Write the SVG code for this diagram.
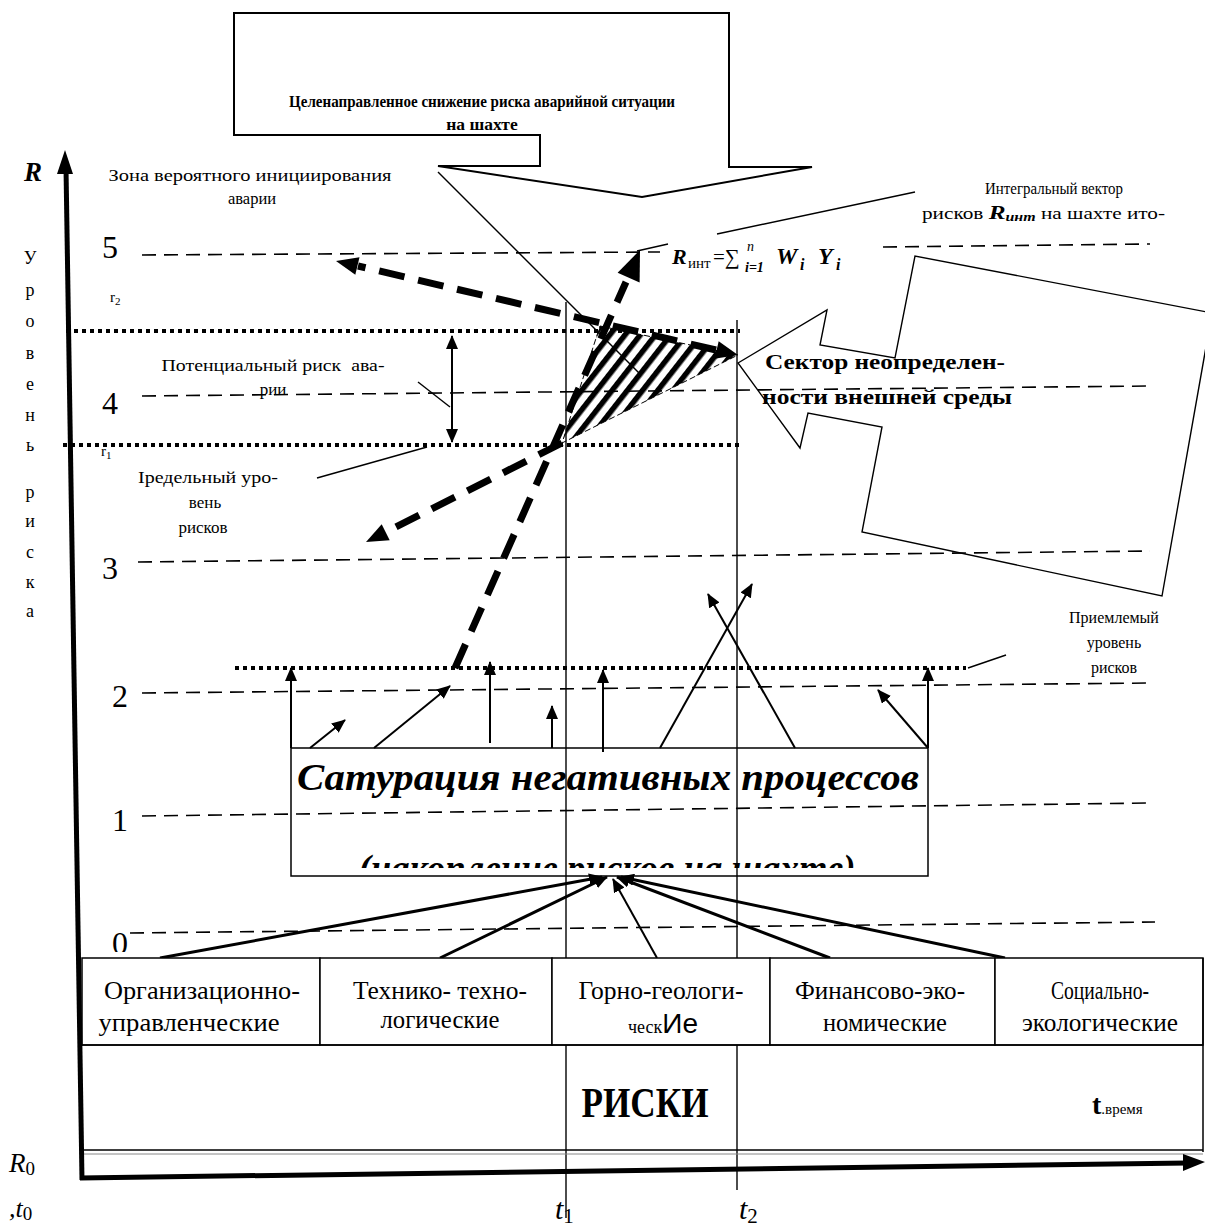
<svg xmlns="http://www.w3.org/2000/svg" width="1205" height="1227" viewBox="0 0 1205 1227">
  <defs>
    <style>
      .t { font-family: "Liberation Serif", "Times New Roman", serif; fill: #000; }
      .b { font-weight: bold; }
      .i { font-style: italic; }
      .bi { font-weight: bold; font-style: italic; }
      .thin { stroke: #000; stroke-width: 1.4; fill: none; }
      .dash { stroke: #000; stroke-width: 1.6; stroke-dasharray: 14 8; fill: none; }
      .dot { stroke: #000; stroke-width: 4; stroke-dasharray: 4 4; fill: none; }
      .tdash { stroke: #000; stroke-width: 7; stroke-dasharray: 26 14; fill: none; }
      .arr { stroke: #000; stroke-width: 2; fill: none; marker-end: url(#ah); }
      .arr3 { stroke: #000; stroke-width: 3; fill: none; marker-end: url(#ah); }
      .box { stroke: #000; stroke-width: 1.5; fill: none; }
      .boxw { stroke: #000; stroke-width: 1.5; fill: #fff; }
    </style>
    <marker id="ah" viewBox="0 0 14 12" refX="13" refY="6" markerWidth="14" markerHeight="12" markerUnits="userSpaceOnUse" orient="auto-start-reverse">
      <path d="M0,0 L14,6 L0,12 Z" fill="#000"/>
    </marker>
    <pattern id="hatch" patternUnits="userSpaceOnUse" width="12" height="12" patternTransform="rotate(38)">
      <rect width="5.5" height="12" fill="#000"/>
    </pattern>
    <clipPath id="satClip"><rect x="291" y="749" width="636" height="119"/></clipPath>
    <clipPath id="zeroClip"><rect x="100" y="927" width="40" height="25"/></clipPath>
  </defs>
  <rect width="1205" height="1227" fill="#fff"/>

  <!-- risk level grid -->
  <g id="levels">
    <line class="dash" x1="142" y1="255" x2="660" y2="252"/>
    <line class="dash" x1="883" y1="247" x2="1150" y2="244"/>
    <line class="dash" x1="142" y1="396" x2="1150" y2="386"/>
    <line class="dash" x1="138" y1="562" x2="1150" y2="551"/>
    <line class="dash" x1="142" y1="693" x2="1150" y2="683"/>
    <line class="dash" x1="142" y1="816" x2="1150" y2="803"/>
    <line class="dash" x1="130" y1="933" x2="1155" y2="922"/>
    <line class="dot" x1="66" y1="331" x2="740" y2="331"/>
    <line class="dot" x1="63" y1="445" x2="740" y2="445"/>
    <line class="dot" x1="235" y1="668" x2="966" y2="668"/>
  </g>

  <!-- time marks t1, t2 -->
  <g id="time-marks">
    <line class="thin" x1="566" y1="302" x2="566" y2="1218"/>
    <line class="thin" x1="737" y1="320" x2="737" y2="1190"/>
  </g>

  <!-- zone of probable accident initiation -->
  <g id="zone">
    <polygon points="600,326 738,355 562,443" fill="url(#hatch)"/>
    <polygon points="600,326 738,355 562,443" fill="none" stroke="#000" stroke-width="1" stroke-dasharray="6 3"/>
  </g>

  <!-- heavy dashed risk vectors -->
  <g id="vectors">
    <line class="tdash" x1="455" y1="668" x2="626" y2="282"/>
    <polygon points="640,250 639.6,282.5 617.6,272.7" fill="#000"/>
    <line class="tdash" x1="716" y1="350" x2="358" y2="266"/>
    <polygon points="336,261 359.5,257.2 355.3,274.8" fill="#000"/>
    <polygon points="738,355 718.7,341.2 714.5,358.8" fill="#000"/>
    <line class="tdash" x1="562" y1="443" x2="386" y2="532"/>
    <polygon points="366,542 389.7,540.2 381.7,524.2" fill="#000"/>
  </g>

  <!-- connectors -->
  <g id="connectors">
    <line class="arr" x1="291" y1="748" x2="291" y2="668"/>
    <line class="arr" x1="310" y1="748" x2="345" y2="720"/>
    <line class="arr" x1="374" y1="748" x2="450" y2="686"/>
    <line class="arr" x1="490" y1="743" x2="490" y2="662"/>
    <line class="arr" x1="552" y1="748" x2="552" y2="706"/>
    <line class="arr" x1="603" y1="752" x2="603" y2="670"/>
    <line class="arr" x1="660" y1="748" x2="752" y2="584"/>
    <line class="arr" x1="795" y1="748" x2="708" y2="594"/>
    <line class="arr" x1="928" y1="748" x2="878" y2="690"/>
    <line class="arr" x1="928" y1="748" x2="928" y2="668"/>
    <line class="arr3" x1="160" y1="958" x2="602" y2="877"/>
    <line class="arr3" x1="440" y1="958" x2="607" y2="877"/>
    <line class="arr" x1="657" y1="958" x2="613" y2="879"/>
    <line class="arr3" x1="830" y1="958" x2="617" y2="877"/>
    <line class="arr3" x1="1005" y1="958" x2="621" y2="877"/>
    <line class="arr" x1="452" y1="336" x2="452" y2="442" marker-start="url(#ah)"/>
    <line class="thin" x1="438" y1="172" x2="640" y2="374"/>
    <line class="thin" x1="915" y1="192" x2="717" y2="234"/>
    <line class="thin" x1="668" y1="244" x2="637" y2="251"/>
    <line class="thin" x1="418" y1="382" x2="450" y2="407"/>
    <line class="thin" x1="317" y1="478" x2="427" y2="447"/>
    <line class="thin" x1="968" y1="668" x2="1006" y2="655"/>
  </g>

  <!-- saturation of negative processes -->
  <g id="saturation">
    <rect class="box" x="291" y="748" width="637" height="128"/>
    <text class="t bi" x="608" y="790" font-size="38" text-anchor="middle" textLength="622" lengthAdjust="spacingAndGlyphs">Сатурация негативных процессов</text>
    <text class="t bi" x="607" y="881" font-size="38" text-anchor="middle" textLength="497" lengthAdjust="spacingAndGlyphs" clip-path="url(#satClip)">(накопление рисков на шахте)</text>
  </g>

  <!-- level numbers -->
  <g id="level-labels" class="t" font-size="32">
    <text x="102" y="258">5</text>
    <text x="102" y="414">4</text>
    <text x="102" y="579">3</text>
    <text x="112" y="707">2</text>
    <text x="112" y="831">1</text>
    <text x="112" y="954" clip-path="url(#zeroClip)">0</text>
  </g>

  <!-- risk groups -->
  <g id="risk-groups">
    <rect class="boxw" x="82" y="958" width="238" height="87"/>
    <rect class="boxw" x="320" y="958" width="232" height="87"/>
    <rect class="boxw" x="552" y="958" width="218" height="87"/>
    <rect class="boxw" x="770" y="958" width="225" height="87"/>
    <rect class="boxw" x="995" y="958" width="208" height="87"/>
    <g class="t" font-size="25" text-anchor="middle">
      <text x="202" y="999" textLength="196" lengthAdjust="spacingAndGlyphs">Организационно-</text>
      <text x="189" y="1031" textLength="181" lengthAdjust="spacingAndGlyphs">управленческие</text>
      <text x="440" y="999" textLength="174" lengthAdjust="spacingAndGlyphs">Технико- техно-</text>
      <text x="440" y="1028" textLength="119" lengthAdjust="spacingAndGlyphs">логические</text>
      <text x="661" y="999" textLength="165" lengthAdjust="spacingAndGlyphs">Горно-геологи-</text>
      <text x="663" y="1033"><tspan font-size="18">ческ</tspan><tspan font-family="Liberation Sans, Arial, sans-serif" font-size="28">Ие</tspan></text>
      <text x="880" y="999" textLength="170" lengthAdjust="spacingAndGlyphs">Финансово-эко-</text>
      <text x="885" y="1031" textLength="124" lengthAdjust="spacingAndGlyphs">номические</text>
      <text x="1100" y="999" textLength="98" lengthAdjust="spacingAndGlyphs">Социально-</text>
      <text x="1100" y="1031" textLength="156" lengthAdjust="spacingAndGlyphs">экологические</text>
    </g>
  </g>

  <!-- risks band -->
  <g id="risks">
    <line class="box" x1="82" y1="1045" x2="1203" y2="1045"/>
    <line class="box" x1="1203" y1="958" x2="1203" y2="1152"/>
    <line class="box" x1="82" y1="1150" x2="1203" y2="1150"/>
    <line x1="82" y1="1154" x2="1203" y2="1154" stroke="#888" stroke-width="1"/>
    <text class="t b" x="645" y="1117" font-size="42" text-anchor="middle" textLength="127" lengthAdjust="spacingAndGlyphs">РИСКИ</text>
    <text class="t" x="1092" y="1114"><tspan font-weight="bold" font-size="28">t</tspan><tspan font-size="15">.время</tspan></text>
  </g>

  <!-- axes -->
  <g id="axes">
    <line x1="82" y1="1180" x2="66" y2="168" stroke="#000" stroke-width="5"/>
    <polygon points="65,150 57,174 73,174" fill="#000"/>
    <line x1="80" y1="1178" x2="1188" y2="1163" stroke="#000" stroke-width="5"/>
    <polygon points="1205,1162 1183,1154 1183,1171" fill="#000"/>
    <text class="t bi" x="24" y="181" font-size="27">R</text>
    <g class="t" font-size="18" text-anchor="middle">
      <text x="30" y="264">У</text>
      <text x="30" y="296">р</text>
      <text x="30" y="327">о</text>
      <text x="30" y="359">в</text>
      <text x="30" y="390">е</text>
      <text x="30" y="421">н</text>
      <text x="30" y="451">ь</text>
      <text x="30" y="498">р</text>
      <text x="30" y="527">и</text>
      <text x="30" y="558">с</text>
      <text x="30" y="588">к</text>
      <text x="30" y="617">а</text>
    </g>
    <text class="t i" x="9" y="1172" font-size="27">R<tspan font-size="19" font-style="normal" dy="3">0</tspan></text>
    <text class="t i" x="9" y="1217" font-size="26">,t<tspan font-size="19" font-style="normal" dy="3">0</tspan></text>
    <text class="t i" x="555" y="1219" font-size="30">t<tspan font-size="21" font-style="normal" dy="4">1</tspan></text>
    <text class="t i" x="739" y="1219" font-size="30">t<tspan font-size="21" font-style="normal" dy="4">2</tspan></text>
  </g>

  <!-- annotations -->
  <g id="annotations" class="t">
    <text x="250" y="181" font-size="16.5" text-anchor="middle" textLength="283" lengthAdjust="spacingAndGlyphs">Зона вероятного инициирования</text>
    <text x="252" y="204" font-size="16.5" text-anchor="middle">аварии</text>
    <text x="110" y="302" font-size="15">r<tspan font-size="11" dy="3">2</tspan></text>
    <text x="101" y="456" font-size="15">r<tspan font-size="11" dy="3">1</tspan></text>
    <text x="273" y="371" font-size="17" text-anchor="middle" textLength="223" lengthAdjust="spacingAndGlyphs" xml:space="preserve">Потенциальный риск  ава-</text>
    <text x="273" y="395" font-size="17" text-anchor="middle">рии</text>
    <text x="208" y="483" font-size="17" text-anchor="middle" textLength="140" lengthAdjust="spacingAndGlyphs">Іредельный уро-</text>
    <text x="205" y="508" font-size="17" text-anchor="middle">вень</text>
    <text x="203" y="533" font-size="17" text-anchor="middle">рисков</text>
    <text x="1054" y="194" font-size="17" text-anchor="middle" textLength="138" lengthAdjust="spacingAndGlyphs">Интегральный вектор</text>
    <text x="922" y="219" font-size="16" textLength="243" lengthAdjust="spacingAndGlyphs">рисков <tspan class="bi" font-size="19">R</tspan><tspan class="bi" font-size="12" dy="2">инт</tspan><tspan dy="-2"> на шахте ито-</tspan></text>
    <text class="bi" x="672" y="264" font-size="22">R</text>
    <text x="688" y="268" font-size="15">инт</text>
    <text x="713" y="264" font-size="21">=∑</text>
    <text class="bi" x="745" y="272" font-size="14">i=1</text>
    <text class="i" x="747" y="251" font-size="14">n</text>
    <text class="bi" x="776" y="264" font-size="24">W</text>
    <text class="bi" x="800" y="270" font-size="16">i</text>
    <text class="bi" x="818" y="264" font-size="24">Y</text>
    <text class="bi" x="836" y="270" font-size="16">i</text>
    <text x="1114" y="623" font-size="16" text-anchor="middle">Приемлемый</text>
    <text x="1114" y="648" font-size="16" text-anchor="middle">уровень</text>
    <text x="1114" y="673" font-size="16" text-anchor="middle">рисков</text>
  </g>

  <!-- external uncertainty sector -->
  <g id="uncertainty">
    <polygon class="thin" stroke-width="2" points="738,363 827,310 820,345 895,358 915,256 1212,313 1162,596 862,532 882,427 808,413 800,448"/>
    <text class="t b" x="765" y="369" font-size="21" textLength="240" lengthAdjust="spacingAndGlyphs">Сектор неопределен-</text>
    <text class="t b" x="762" y="404" font-size="21" textLength="250" lengthAdjust="spacingAndGlyphs">ности внешней среды</text>
  </g>

  <!-- goal callout -->
  <g id="goal">
    <path d="M234,13 H729 V167 H812 L642,197 L438,166 H540 V135 H234 Z" fill="#fff" stroke="#000" stroke-width="2"/>
    <text class="t b" x="482" y="107" font-size="17.5" text-anchor="middle" textLength="386" lengthAdjust="spacingAndGlyphs">Целенаправленное снижение риска аварийной ситуации</text>
    <text class="t b" x="482" y="130" font-size="17.5" text-anchor="middle">на шахте</text>
  </g>
</svg>
